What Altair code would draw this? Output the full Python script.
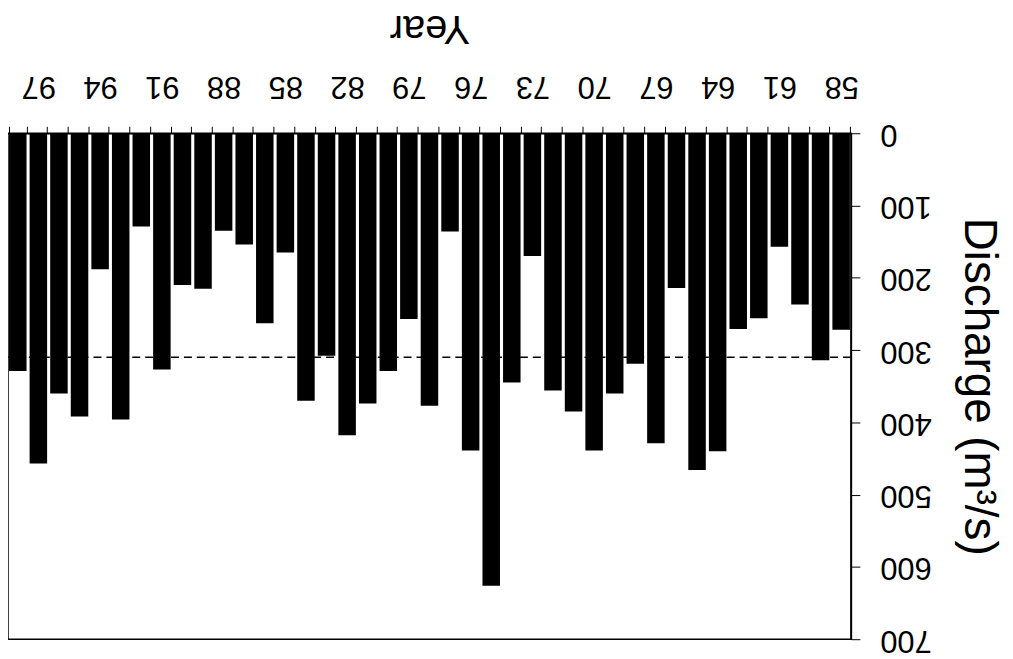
import altair as alt
import pandas as pd

years = list(range(58, 99))
discharge = [272, 314, 237, 157, 256, 271, 440, 466, 214, 429,
             319, 360, 439, 385, 356, 170, 345, 626, 439, 136,
             377, 257, 329, 374, 418, 308, 370, 165, 263, 154,
             135, 215, 210, 327, 129, 396, 188, 392, 360, 457,
             329]
mean_line = [310]

df = pd.DataFrame({"year": years, "discharge": discharge})
mdf = pd.DataFrame({"m": mean_line})

FONT = "Liberation Sans"

x_enc = alt.X(
    "year:O",
    sort="descending",
    scale=alt.Scale(paddingInner=0.15, paddingOuter=0.05),
    axis=alt.Axis(
        orient="top",
        title="Year",
        titleAngle=180,
        titleBaseline="top",
        titleY=-86,
        titleFontSize=40,
        titleFont=FONT,
        titleFontWeight="normal",
        titleColor="black",
        labelAngle=180,
        labelFontSize=31,
        labelFont=FONT,
        labelColor="black",
        labelPadding=26,
        labelExpr="(datum.value - 58) % 3 == 0 ? datum.value : ''",
        tickBand="extent",
        tickSize=7,
        tickColor="black",
        domainColor="black",
        domainWidth=1.5,
        grid=False,
    ),
)

y_enc = alt.Y(
    "discharge:Q",
    scale=alt.Scale(domain=[0, 700], reverse=True, nice=False),
    axis=alt.Axis(
        orient="right",
        title="Discharge (m³/s)",
        titleAngle=90,
        titleFontSize=46,
        titleFont=FONT,
        titleFontWeight="normal",
        titleColor="black",
        titlePadding=24,
        labelAngle=180,
        labelFontSize=31,
        labelFont=FONT,
        labelColor="black",
        labelPadding=20,
        values=[0, 100, 200, 300, 400, 500, 600, 700],
        tickSize=9,
        tickColor="black",
        domainColor="black",
        domainWidth=1.5,
        grid=False,
    ),
)

bars = alt.Chart(df).mark_bar(color="black").encode(x=x_enc, y=y_enc)

rule = alt.Chart(mdf).mark_rule(
    color="black", strokeDash=[8, 5], strokeWidth=1.5
).encode(y=alt.Y("m:Q", scale=alt.Scale(domain=[0, 700], reverse=True, nice=False)))

chart = (
    alt.layer(bars, rule)
    .properties(
        width=848,
        height=509,
        autosize=alt.AutoSizeParams(type="none"),
        padding={"left": 0, "top": 124, "right": 155, "bottom": 30},
        background="white",
    )
    .configure_view(stroke="black", strokeWidth=1.5)
)

chart.save("out.html", embed_options={"renderer": "svg", "actions": False})
